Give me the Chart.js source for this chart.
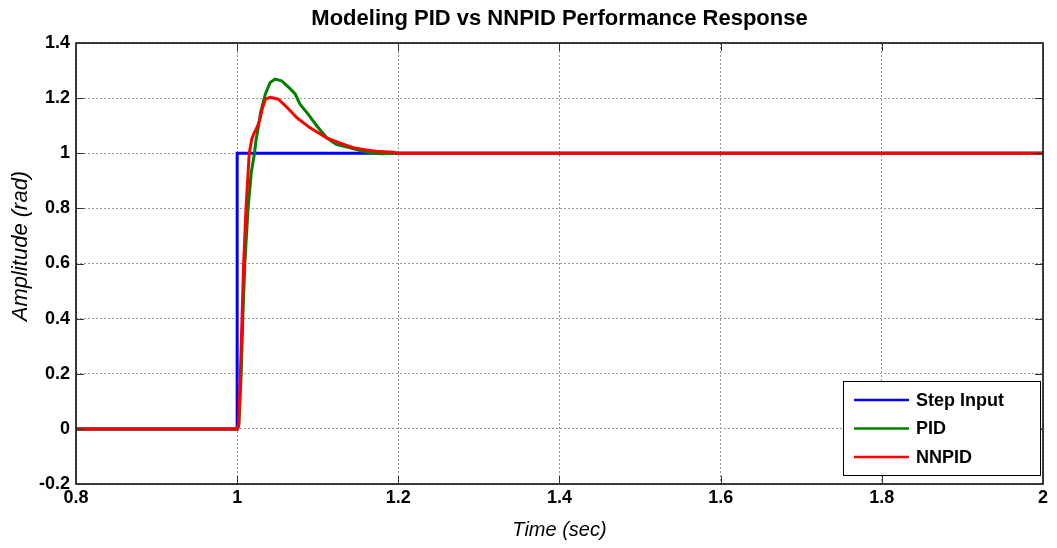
<!DOCTYPE html>
<html>
<head>
<meta charset="utf-8">
<script src="https://cdn.jsdelivr.net/npm/chart.js@4.4.0/dist/chart.umd.min.js"></script>
<style>
  html, body { margin: 0; padding: 0; background: #fff; }
  #wrap { width: 1057px; height: 548px; }
</style>
</head>
<body>
<div id="wrap"><canvas id="respChart"></canvas></div>
<script>
// step reference
const stepTime = [0.8, 1.0, 1.0, 2.0];
const stepValues = [0, 0, 1, 1];

// PID response
const pidTime = [0.8, 1.0, 1.002, 1.005, 1.007, 1.0095, 1.0135, 1.0175, 1.0215, 1.0235, 1.026, 1.029, 1.035,
  1.041, 1.047, 1.055, 1.064, 1.072, 1.078, 1.088, 1.099, 1.111, 1.123, 1.14, 1.156, 1.168, 1.18, 1.2, 2.0];
const pidValues = [0, 0, 0.01, 0.2, 0.4, 0.6, 0.8, 0.93, 1.0, 1.05, 1.09, 1.148, 1.215,
  1.257, 1.269, 1.263, 1.239, 1.215, 1.178, 1.142, 1.099, 1.056, 1.032, 1.02, 1.007, 1.0, 0.998, 1.0, 1.0];

// NNPID response
const nnpidTime = [0.8, 1.0, 1.002, 1.004, 1.006, 1.008, 1.011, 1.015, 1.018, 1.0205, 1.024, 1.028, 1.031, 1.035,
  1.041, 1.051, 1.062, 1.074, 1.09, 1.111, 1.127, 1.144, 1.156, 1.172, 1.193, 1.2, 2.0];
const nnpidValues = [0, 0, 0.02, 0.2, 0.4, 0.6, 0.8, 1.0, 1.05, 1.07, 1.09, 1.12, 1.16, 1.196,
  1.203, 1.196, 1.166, 1.129, 1.093, 1.056, 1.038, 1.02, 1.014, 1.007, 1.004, 1.0, 1.0];

const xTickLabels = ['0.8', '1', '1.2', '1.4', '1.6', '1.8', '2'];
const yTickLabels = ['-0.2', '0', '0.2', '0.4', '0.6', '0.8', '1', '1.2', '1.4'];

const chartTitle = 'Modeling PID vs NNPID Performance Response';
const yTitle = 'Amplitude (rad)';

const toPoints = (xs, ys) => xs.map((x, i) => ({ x: x, y: ys[i] }));

const fam = 'Liberation Sans, Arial, sans-serif';
const tickFont = { family: fam, size: 18, weight: 'bold' };

// frame, inward ticks, titles and legend box like matlab
const matlabLook = {
  id: 'matlabLook',
  afterDraw(chart) {
    const c = chart.ctx, a = chart.chartArea;
    const xs = chart.scales.x, ys = chart.scales.y;
    c.save();
    c.strokeStyle = '#000';
    c.lineWidth = 1.5;
    c.strokeRect(a.left, a.top, a.right - a.left, a.bottom - a.top);
    c.lineWidth = 1;
    c.strokeStyle = '#333';
    c.beginPath();
    xs.ticks.forEach(t => {
      const px = Math.round(xs.getPixelForValue(t.value)) + 0.5;
      c.moveTo(px, a.bottom); c.lineTo(px, a.bottom - 8);
      c.moveTo(px, a.top); c.lineTo(px, a.top + 8);
    });
    ys.ticks.forEach(t => {
      const py = Math.round(ys.getPixelForValue(t.value)) + 0.5;
      c.moveTo(a.left, py); c.lineTo(a.left + 8, py);
      c.moveTo(a.right, py); c.lineTo(a.right - 8, py);
    });
    c.stroke();

    // title centred over the axes
    c.fillStyle = '#000';
    c.textAlign = 'center';
    c.textBaseline = 'middle';
    c.font = 'bold 22px ' + fam;
    c.fillText(chartTitle, (a.left + a.right) / 2, 19);

    // y label
    c.save();
    c.translate(21, 246);
    c.rotate(-Math.PI / 2);
    c.font = 'italic 22px ' + fam;
    c.fillText(yTitle, 0, 0);
    c.restore();

    // legend
    const bx = 843, by = 381, bw = 197, bh = 94;
    c.textAlign = 'left';
    c.fillStyle = '#fff';
    c.fillRect(bx, by, bw, bh);
    c.strokeStyle = '#000';
    c.lineWidth = 1;
    c.strokeRect(bx + 0.5, by + 0.5, bw, bh);
    c.font = 'bold 18px ' + fam;
    const items = chart.data.datasets.slice().sort((p, q) => q.order - p.order);
    items.forEach((ds, i) => {
      const y = by + 19 + i * 28.5;
      c.strokeStyle = ds.borderColor;
      c.lineWidth = 2.5;
      c.beginPath(); c.moveTo(854, y); c.lineTo(909, y); c.stroke();
      c.fillStyle = '#000';
      c.fillText(ds.label, 916, y + 1);
    });
    c.restore();
  }
};

new Chart(document.getElementById('respChart').getContext('2d'), {
  type: 'line',
  data: {
    datasets: [
      { label: 'Step Input', data: toPoints(stepTime, stepValues), borderColor: '#0000ff', order: 3 },
      { label: 'PID', data: toPoints(pidTime, pidValues), borderColor: '#008000', order: 2 },
      { label: 'NNPID', data: toPoints(nnpidTime, nnpidValues), borderColor: '#ff0000', order: 1 }
    ]
  },
  options: {
    responsive: true,
    maintainAspectRatio: false,
    animation: false,
    elements: {
      point: { radius: 0 },
      line: { borderWidth: 3, tension: 0, fill: false }
    },
    layout: { padding: { top: 43, right: 14, left: 0, bottom: 0 } },
    plugins: {
      legend: { display: false },
      tooltip: { enabled: false },
      title: { display: false }
    },
    scales: {
      x: {
        type: 'linear',
        min: 0.8, max: 2,
        ticks: {
          stepSize: 0.2,
          color: '#000',
          font: tickFont,
          padding: 3,
          maxRotation: 0,
          callback: (v, i) => xTickLabels[i]
        },
        grid: { color: '#999', borderDash: [2, 2], drawTicks: false },
        border: { display: false, dash: [2, 2] },
        title: {
          display: true,
          text: 'Time (sec)',
          color: '#000',
          font: { family: fam, size: 20, style: 'italic' },
          padding: { top: 4, bottom: 6 }
        },
        afterFit: s => { s.height = 64; }
      },
      y: {
        min: -0.2, max: 1.4,
        ticks: {
          stepSize: 0.2,
          color: '#000',
          font: tickFont,
          padding: 6,
          callback: (v, i) => yTickLabels[i]
        },
        grid: { color: '#999', borderDash: [2, 2], drawTicks: false },
        border: { display: false, dash: [2, 2] },
        title: { display: false },
        afterFit: s => { s.width = 76; }
      }
    }
  },
  plugins: [matlabLook]
});
</script>
</body>
</html>
